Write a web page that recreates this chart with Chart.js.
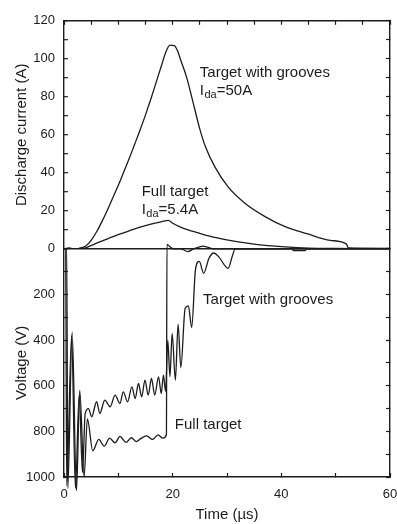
<!DOCTYPE html>
<html>
<head>
<meta charset="utf-8">
<script src="https://cdn.jsdelivr.net/npm/chart.js@4.4.0/dist/chart.umd.min.js"></script>
<style>
  html, body { margin: 0; padding: 0; background: #fff; overflow: hidden; }
</style>
</head>
<body>
<canvas id="pulseChart" width="397" height="524"></canvas>
<script>
// discharge current (A) vs time (us)
const grooveCurT = [0, 1, 2, 3, 4, 5, 6, 7, 8, 9, 10, 11, 12, 13, 14, 15, 16, 17, 18, 18.8, 19.5, 20.3, 21, 21.4, 22.6, 23.5, 25, 26, 27.8, 30.2, 33.3, 37, 40.7, 44.7, 49, 52, 52.3, 60];
const grooveCurA = [0, 0.4, -0.3, 0.5, 1.5, 4.5, 9, 14.5, 20.5, 27, 33.5, 40.5, 47.5, 55, 62.5, 70.5, 79, 88, 97, 104, 107.2, 107, 103.5, 100, 90, 80, 63, 54, 43, 32.6, 24, 17, 11.7, 8, 4.5, 2.5, 0.5, 0.3];
const fullCurT = [0, 1, 2, 3, 4, 6, 8, 10, 12, 14, 16, 18, 19.2, 20, 22, 25, 28, 31.8, 36, 40, 45, 50, 60];
const fullCurA = [0, 0.4, -0.2, 0.3, 0.6, 3, 5.3, 7.5, 9.5, 11.4, 13, 14.3, 15, 13.5, 10.8, 8.2, 5.9, 3.8, 2.1, 1.2, 0.4, 0.2, 0];

// voltage (V) vs time (us)
const fullVoltT = [0, 0.5, 0.7, 1.5, 2.3, 2.9, 3.7, 4.3, 5.3, 6.4, 7.4, 8.4, 9.4, 10.3, 11.4, 12.4, 13.3, 14.1, 15.2, 16.3, 17.3, 18.2, 18.85, 18.95, 19.4, 20.2, 21.5, 22.8, 23.8, 24.8, 25.6, 26.4, 27.5, 60];
const fullVoltV = [0, 0, 1050, 365, 1060, 620, 1000, 745, 885, 835, 865, 830, 850, 822, 848, 828, 845, 832, 820, 835, 815, 830, 815, -20, -12, 0, 0, 12, 0, -8, -12, -8, 0, 0];
const grooveVoltT = [0, 0.3, 0.5, 1.4, 2.1, 2.8, 3.4, 3.9, 4.5, 5.1, 6.0, 6.6, 7.5, 8.5, 9.4, 10.3, 10.9, 11.7, 12.5, 13.1, 13.7, 14.3, 14.9, 15.5, 16.1, 16.7, 17.4, 17.9, 18.3, 18.7, 19.1, 19.5, 19.9, 20.5, 21.0, 21.5, 22.3, 22.9, 23.5, 24.2, 24.9, 25.7, 26.7, 27.6, 28.5, 30.2, 31.0, 31.5, 42, 42.2, 44.4, 44.6, 60];
const grooveVoltV = [0, 0, 1040, 380, 1050, 640, 980, 722, 700, 736, 670, 721, 663, 692, 641, 678, 627, 670, 605, 656, 590, 649, 575, 641, 568, 641, 561, 634, 553, 625, 400, 560, 370, 575, 330, 520, 260, 250, 345, 90, 55, 107, 40, 18, 35, 85, 30, 0, 0, 8, 8, 0, 0];

// axis tick labels (the 0 between the panels comes from the current axis)
const timeTicks = [0, 20, 40, 60];
const currentTicks = [0, 20, 40, 60, 80, 100, 120];
const voltTicks = [200, 400, 600, 800, 1000];

const ink = '#1c1c1c';
const family = '"Liberation Sans", Arial, Helvetica, sans-serif';
const tickFont = { family: family, size: 13 };
const titleFont = { family: family, size: 15 };

const toPoints = (xs, ys) => xs.map((x, i) => ({ x: x, y: ys[i] }));

function trace(data, axis, noClip) {
  return {
    data: data,
    yAxisID: axis,
    borderColor: ink,
    borderWidth: 1.3,
    pointRadius: 0,
    cubicInterpolationMode: 'monotone',
    clip: noClip ? false : undefined
  };
}

// inward tick marks, no grid lines
function frame(extra) {
  return Object.assign({
    drawOnChartArea: false,
    drawTicks: true,
    tickLength: -4,
    tickColor: ink,
    tickWidth: 1.2
  }, extra || {});
}
const edge = { display: true, color: ink, width: 1.4 };
const onlyIn = list => v => (list.includes(v) ? v : '');

// text labels next to the curves
const notes = {
  id: 'curveNotes',
  afterDatasetsDraw(chart) {
    const { ctx, scales } = chart;
    const items = [
      { t: 25.0, v: 92.5, ax: 'y', parts: ['Target with grooves'] },
      { t: 25.0, v: 83, ax: 'y', parts: ['I', 'da', '=50A'] },
      { t: 14.3, v: 30, ax: 'y', parts: ['Full target'] },
      { t: 14.3, v: 20.4, ax: 'y', parts: ['I', 'da', '=5.4A'] },
      { t: 25.6, v: 224, ax: 'yV', parts: ['Target with grooves'] },
      { t: 20.4, v: 773, ax: 'yV', parts: ['Full target'] }
    ];
    ctx.save();
    ctx.fillStyle = ink;
    ctx.textAlign = 'left';
    ctx.textBaseline = 'middle';
    items.forEach(it => {
      let x = scales.x.getPixelForValue(it.t);
      const y = scales[it.ax].getPixelForValue(it.v);
      ctx.font = '15px ' + family;
      ctx.fillText(it.parts[0], x, y);
      if (it.parts.length > 1) {
        x += ctx.measureText(it.parts[0]).width + 0.5;
        ctx.font = '11px ' + family;
        ctx.fillText(it.parts[1], x, y + 4);
        x += ctx.measureText(it.parts[1]).width;
        ctx.font = '15px ' + family;
        ctx.fillText(it.parts[2], x, y);
      }
    });
    ctx.restore();
  }
};

new Chart(document.getElementById('pulseChart'), {
  type: 'line',
  data: {
    datasets: [
      trace(toPoints(grooveCurT, grooveCurA), 'y'),
      trace(toPoints(fullCurT, fullCurA), 'y'),
      trace(toPoints(fullVoltT, fullVoltV), 'yV', true),
      trace(toPoints(grooveVoltT, grooveVoltV), 'yV', true)
    ]
  },
  options: {
    responsive: false,
    animation: false,
    layout: { padding: 0 },
    plugins: { legend: { display: false }, tooltip: { enabled: false } },
    scales: {
      x: {
        type: 'linear', position: 'bottom', min: 0, max: 60,
        ticks: { stepSize: 10, autoSkip: false, maxRotation: 0, padding: 14, font: tickFont, color: ink, callback: onlyIn(timeTicks) },
        grid: frame(), border: edge,
        title: { display: true, text: 'Time (µs)', font: titleFont, color: ink, padding: 0 },
        // let the last label run to the window edge
        afterFit: s => { s.height = 47; s.paddingLeft = 0; s.paddingRight = 0; }
      },
      xTop: {
        type: 'linear', position: 'top', min: 0, max: 60,
        ticks: { display: false, stepSize: 5, autoSkip: false },
        grid: frame(), border: edge,
        afterFit: s => { s.height = 19.5; }
      },
      yV: {
        type: 'linear', position: 'left', stack: 'left', stackWeight: 1,
        reverse: true, min: 0, max: 1000,
        ticks: { stepSize: 100, autoSkip: false, padding: 13, font: tickFont, color: ink, callback: onlyIn(voltTicks) },
        grid: frame(), border: edge,
        title: { display: true, text: 'Voltage (V)', font: titleFont, color: ink, padding: { top: 13, bottom: 0 } },
        afterFit: s => { s.width = 64; }
      },
      y: {
        type: 'linear', position: 'left', stack: 'left', stackWeight: 1,
        min: 0, max: 120,
        ticks: { stepSize: 10, autoSkip: false, padding: 13, font: tickFont, color: ink, callback: onlyIn(currentTicks) },
        grid: frame({ drawOnChartArea: true, color: c => (c.tick && c.tick.value === 0 ? ink : 'rgba(0,0,0,0)'), lineWidth: 1.4 }),
        border: edge,
        title: { display: true, text: 'Discharge current (A)', font: titleFont, color: ink, padding: { top: 13, bottom: 0 } },
        afterFit: s => { s.width = 64; }
      },
      yR: {
        type: 'linear', position: 'right', stack: 'right', stackWeight: 1,
        min: 0, max: 120,
        ticks: { display: false, stepSize: 10, autoSkip: false },
        grid: frame(), border: edge,
        afterFit: s => { s.width = 7; }
      },
      yVR: {
        type: 'linear', position: 'right', stack: 'right', stackWeight: 1,
        reverse: true, min: 0, max: 1000,
        ticks: { display: false, stepSize: 100, autoSkip: false },
        grid: frame(), border: edge,
        afterFit: s => { s.width = 7; }
      }
    }
  },
  plugins: [notes]
});
</script>
</body>
</html>
